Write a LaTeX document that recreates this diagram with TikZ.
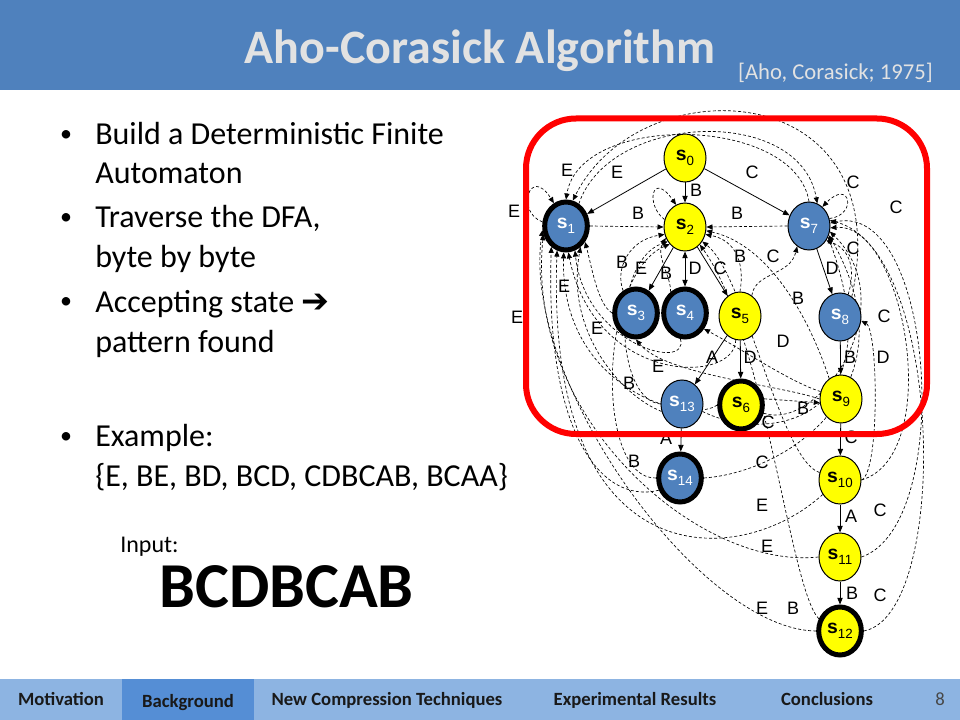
\documentclass[tikz,border=0pt]{standalone}
\usepackage{fontspec}
\setmainfont{Carlito}
\newfontfamily\arialf{Liberation Sans}
\newfontfamily\dejavuf{DejaVu Sans}
\usetikzlibrary{shapes.geometric,arrows.meta}
\pgfdeclarelayer{edges}
\pgfsetlayers{edges,main}
\definecolor{barblue}{RGB}{79,129,189}
\definecolor{acblue}{RGB}{79,129,189}
\definecolor{titlegray}{RGB}{226,226,226}
\definecolor{navlight}{RGB}{141,180,226}
\definecolor{navdark}{RGB}{85,142,213}
\definecolor{navtext}{RGB}{25,25,25}
\definecolor{acyellow}{RGB}{255,255,0}
\newcommand\stname[1]{{\bfseries s}\raisebox{-3.5pt}{\fontsize{10}{10}\selectfont #1}}
\tikzset{
  st/.style={ellipse, draw=black, line width=0.75pt, minimum width=31.5pt, minimum height=36pt, inner sep=0pt,
    font=\arialf\fontsize{14.5}{14.5}\selectfont},
  yel/.style={st, fill=acyellow, text=black},
  blu/.style={st, fill=acblue, text=white},
  acc/.style={line width=3.75pt, minimum width=32pt, minimum height=36pt},
  sedge/.style={draw, line width=0.6pt, -{Triangle[length=5pt,width=4pt]}},
  dedge/.style={draw, line width=0.5pt, dash pattern=on 2.2pt off 1.6pt, -{Triangle[length=4.5pt,width=3.8pt]}},
  lab/.style={font=\arialf\fontsize{13.5}{13.5}\selectfont, inner sep=0pt},
  bodytxt/.style={anchor=base west, font=\fontsize{24}{28}\selectfont, inner sep=0pt},
  bul/.style={anchor=base, font=\fontsize{18}{24}\selectfont, inner sep=0pt},
  navtxt/.style={anchor=base, font=\bfseries\fontsize{14}{14}\selectfont, text=navtext, inner sep=0pt}
}
\begin{document}
\begin{tikzpicture}[x=0.75pt,y=-0.75pt]
\useasboundingbox (0,0) rectangle (960,720);
% title bar
\fill[barblue] (0,0) rectangle (960,90);
\node[anchor=base, font=\bfseries\fontsize{36}{40}\selectfont, text=titlegray, inner sep=0pt] (title) at (480,64) {Aho-Corasick Algorithm};
\node[anchor=base east, font=\fontsize{17}{19}\selectfont, text=titlegray, inner sep=0pt] (cite) at (933,80) {[Aho, Corasick; 1975]};
% bullets
\node[bul] (d1) at (66,142) {•};
\node[bodytxt] (t1) at (95,145) {Build a Deterministic Finite};
\node[bodytxt] (t2) at (95,184) {Automaton};
\node[bul] (d2) at (66,225) {•};
\node[bodytxt] (t3) at (95,228) {Traverse the DFA,};
\node[bodytxt] (t4) at (95,268) {byte by byte};
\node[bul] (d3) at (66,309) {•};
\node[bodytxt] (t5) at (95,312) {Accepting state {\dejavuf\fontsize{25}{28}\selectfont ➔}};
\node[bodytxt] (t6) at (95,352) {pattern found};
\node[bul] (d4) at (66,443) {•};
\node[bodytxt] (t7) at (95,446) {Example:};
\node[bodytxt] (t8) at (95,486) {\{E, BE, BD, BCD, CDBCAB, BCAA\}};
\node[anchor=base west, font=\fontsize{18}{20}\selectfont, inner sep=0pt] (inp) at (120,552) {Input:};
\node[anchor=base west, font=\bfseries\fontsize{48}{52}\selectfont, inner sep=0pt] (word) at (159,607) {BCDBCAB};
% bottom bar
\fill[navlight] (0,679) rectangle (960,720);
\fill[navdark] (122,679) rectangle (254,720);
\node[navtxt] (n1) at (61,705) {Motivation};
\node[navtxt] (n2) at (188,707) {Background};
\node[navtxt] (n3) at (387,705) {New Compression Techniques};
\node[navtxt] (n4) at (635,705) {Experimental Results};
\node[navtxt] (n5) at (827,705) {Conclusions};
\node[anchor=base, font=\fontsize{14}{14}\selectfont, text=navtext!80, inner sep=0pt] (pg) at (940,705) {8};
% states
\node[yel] (s0) at (685,158) {\stname{0}};
\node[blu,acc] (s1) at (566,226) {\stname{1}};
\node[yel] (s2) at (685,227) {\stname{2}};
\node[blu,acc] (s3) at (636,313) {\stname{3}};
\node[blu,acc] (s4) at (685,313) {\stname{4}};
\node[yel] (s5) at (740,316) {\stname{5}};
\node[yel,acc] (s6) at (741,405) {\stname{6}};
\node[blu] (s7) at (809,226) {\stname{7}};
\node[blu] (s8) at (840,317) {\stname{8}};
\node[yel] (s9) at (841,399) {\stname{9}};
\node[yel] (s10) at (840,480) {\stname{10}};
\node[yel] (s11) at (840,557) {\stname{11}};
\node[yel,acc] (s12) at (840,631) {\stname{12}};
\node[blu] (s13) at (682,404) {\stname{13}};
\node[blu,acc] (s14) at (680,478) {\stname{14}};
\begin{pgfonlayer}{edges}
% goto edges
\draw[sedge] (s0) -- (s1);
\draw[sedge] (s0) -- (s2);
\draw[sedge] (s0) -- (s7);
\draw[sedge] (s2) -- (s3);
\draw[sedge, {Triangle[length=5pt,width=4pt]}-{Triangle[length=5pt,width=4pt]}] (s2) -- (s4);
\draw[sedge] (s2) -- (s5);
\draw[sedge] (s5) -- (s6);
\draw[sedge] (s5) -- (s13);
\draw[sedge] (s13) -- (s14);
\draw[sedge] (s7) -- (s8);
\draw[sedge] (s8) -- (s9);
\draw[sedge] (s9) -- (s10);
\draw[sedge] (s10) -- (s11);
\draw[sedge] (s11) -- (s12);
% into s1
\draw[dedge] (s1.170) .. controls (515,212) and (530,165) .. (s1.118);
\draw[dedge] (s7.north) .. controls (795,115) and (580,112) .. (s1.north);
\draw[dedge] (s8.60) .. controls (900,75) and (640,65) .. (s1.75);
\draw[dedge] (s3.west) .. controls (598,305) and (592,268) .. (s1.-40);
\draw[dedge] (s4.-100) .. controls (690,372) and (585,345) .. (s1.-70);
\draw[dedge] (s5.-100) .. controls (735,385) and (595,385) .. (s1.-85);
\draw[dedge] (s6.west) .. controls (690,425) and (560,390) .. (s1.-95);
\draw[dedge] (s10.220) .. controls (740,570) and (545,580) .. (s1.-110);
\draw[dedge] (s11.west) .. controls (700,570) and (525,420) .. (s1.200);
\draw[dedge] (s12.west) .. controls (700,630) and (520,380) .. (s1.190);
\draw[dedge] (s13.200) .. controls (620,395) and (565,330) .. (s1.-55);
\draw[dedge] (s14.210) .. controls (600,505) and (545,430) .. (s1.-125);
\draw[dedge] (s9.west) .. controls (780,385) and (665,375) .. (s3.-90);
% into s2
\draw[dedge] (s1.east) -- (s2.west);
\draw[dedge] (s2.160) .. controls (645,205) and (652,170) .. (s2.112);
\draw[dedge] (s7.west) -- (s2.east);
\draw[dedge] (s3.120) .. controls (615,270) and (628,240) .. (s2.200);
\draw[dedge] (s4.125) .. controls (672,278) and (655,255) .. (s2.210);
\draw[dedge] (s5.north) .. controls (745,262) and (735,240) .. (s2.-20);
\draw[dedge] (s9.120) .. controls (810,320) and (770,245) .. (s2.-10);
\draw[dedge] (s10.160) .. controls (780,460) and (745,275) .. (s2.-40);
\draw[dedge] (s13.west) .. controls (615,400) and (610,262) .. (s2.220);
\draw[dedge] (s14.west) .. controls (595,480) and (598,275) .. (s2.228);
\draw[dedge] (s12.150) .. controls (790,590) and (765,335) .. (s2.-50);
% into s7
\draw[dedge] (s7.20) .. controls (858,215) and (850,178) .. (s7.55);
\draw[dedge] (s1.60) .. controls (610,112) and (800,105) .. (s7.70);
\draw[dedge] (s5.60) .. controls (755,272) and (790,276) .. (s7.-120);
\draw[dedge] (s8.70) .. controls (855,272) and (852,250) .. (s7.-40);
\draw[dedge] (s10.east) .. controls (945,455) and (905,222) .. (s7.-5);
\draw[dedge] (s11.east) .. controls (955,525) and (935,200) .. (s7.8);
\draw[dedge] (s12.east) .. controls (950,615) and (945,250) .. (s7.15);
\draw[dedge] (s6.-20) .. controls (820,432) and (905,305) .. (s7.-15);
\draw[dedge] (s14.east) .. controls (790,472) and (915,385) .. (s7.-25);
\draw[dedge] (s13.-20) .. controls (770,445) and (895,420) .. (s7.-30);
% others
\draw[dedge] (s9.160) .. controls (790,382) and (740,348) .. (s4.-40);
\draw[dedge] (s10.east) .. controls (880,472) and (878,330) .. (s8.-10);
\draw[dedge] (s6.15) -- (s9.190);
\end{pgfonlayer}
% labels
\foreach \t/\x/\y [count=\i] in {E/567/170, E/617/172, C/752/172, B/696/190, C/853/182, C/896/207,
  E/514/211, B/638/213, B/737/213, C/853/248, B/740/256, C/773/256, B/622/262, E/641/268,
  B/666/273, D/695/268, C/720/268, D/832/268, E/564/286, B/798/298, E/517/317, E/597/328,
  C/884/316, D/783/341, A/712/357, D/750/357, E/658/366, B/850/357, D/883/357, B/629/383,
  B/803/408, C/768/422, C/851/437, A/666/438, B/634/461, C/762/462, E/762/505, A/851/516,
  C/880/510, E/767/546, B/852/593, C/880/595, E/762/608, B/793/608}
  \node[lab] (l\i) at (\x,\y) {\t};
% highlight frame
\draw[red, line width=4.5pt, rounded corners=37.5pt] (526,118.5) rectangle (927,434);
\end{tikzpicture}
\end{document}
